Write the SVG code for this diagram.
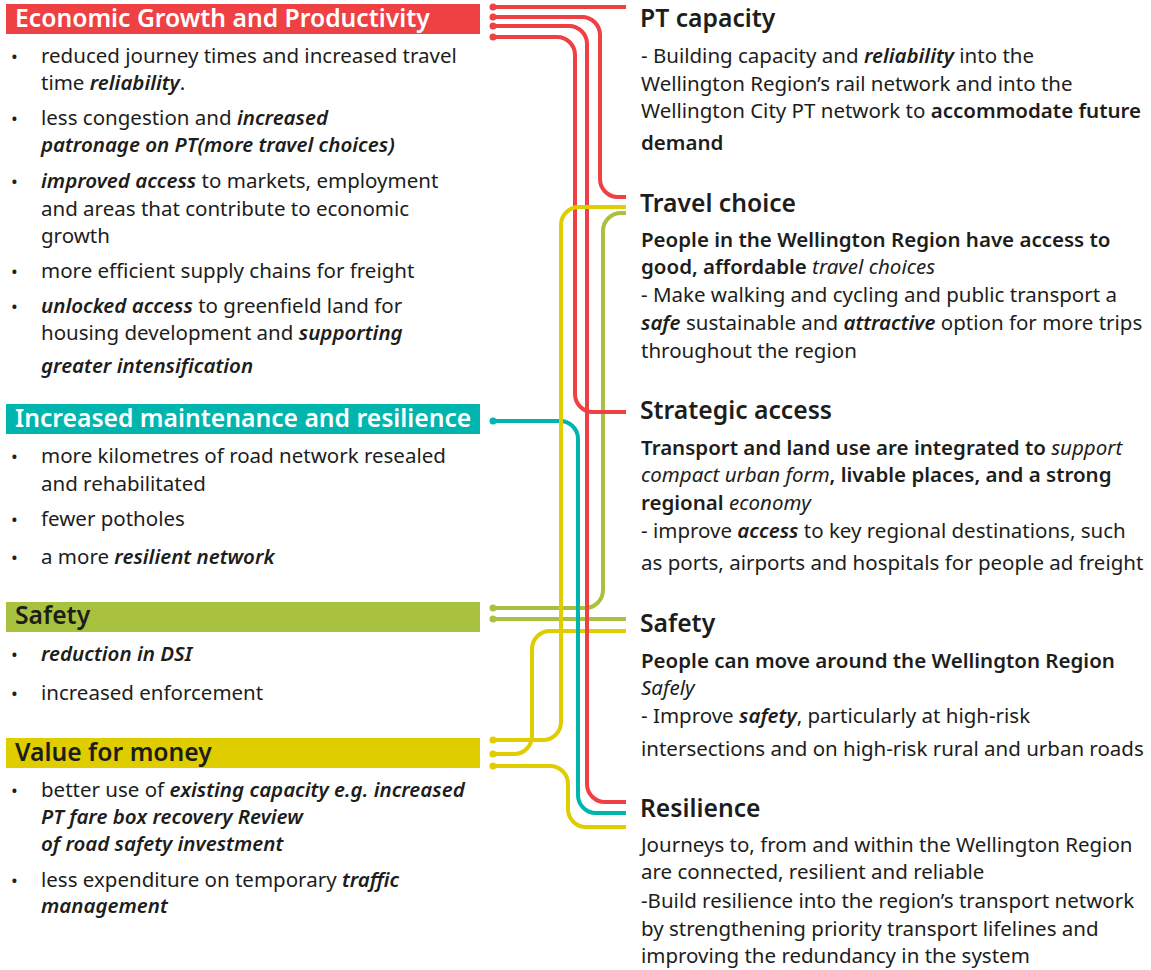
<svg xmlns="http://www.w3.org/2000/svg" width="1151" height="970" viewBox="0 0 1151 970">
  <style>
    .t { font-family: "Noto Sans", "Open Sans", sans-serif; font-size: 20.5px; fill: #1d1d1b; }
    .h { font-family: "Noto Sans", "Open Sans", sans-serif; font-size: 24.7px; font-weight: 600; fill: #1d1d1b; }
    .hw { fill: #ffffff; }
    .bul { font-family: "Noto Sans", sans-serif; font-size: 18px; fill: #1d1d1b; }
    .b { font-weight: 600; }
    .i { font-style: italic; }
    .bi { font-weight: 600; font-style: italic; }
    .ln { fill: none; stroke-width: 4; stroke-linecap: butt; }
    .red { stroke: #ef4044; } .teal { stroke: #00b5ad; } .green { stroke: #a8c23f; } .yel { stroke: #e0cd00; }
    .dred { fill: #ef4044; } .dteal { fill: #00b5ad; } .dgreen { fill: #a8c23f; } .dyel { fill: #e0cd00; }
  </style>

  <rect width="1151" height="970" fill="#ffffff"/>

  <!-- Left column: outcome groups -->
  <g id="economic-growth">
    <rect x="6" y="4" width="474" height="30" fill="#ef4044"/>
    <text class="h hw" x="15" y="27">Economic Growth and Productivity</text>
    <text class="bul" x="11" y="63">•</text>
    <text class="t" x="41" y="63">reduced journey times and increased travel</text>
    <text class="t" x="41" y="90">time <tspan class="bi">reliability</tspan>.</text>
    <text class="bul" x="11" y="125">•</text>
    <text class="t" x="41" y="125">less congestion and <tspan class="bi">increased</tspan></text>
    <text class="t" x="41" y="152"><tspan class="bi">patronage on PT(more travel choices)</tspan></text>
    <text class="bul" x="11" y="188">•</text>
    <text class="t" x="41" y="188"><tspan class="bi">improved access</tspan> to markets, employment</text>
    <text class="t" x="41" y="216">and areas that contribute to economic</text>
    <text class="t" x="41" y="243">growth</text>
    <text class="bul" x="11" y="278">•</text>
    <text class="t" x="41" y="278">more efficient supply chains for freight</text>
    <text class="bul" x="11" y="313">•</text>
    <text class="t" x="41" y="313"><tspan class="bi">unlocked access</tspan> to greenfield land for</text>
    <text class="t" x="41" y="340">housing development and <tspan class="bi">supporting</tspan></text>
    <text class="t" x="41" y="373"><tspan class="bi">greater intensification</tspan></text>
  </g>

  <g id="maintenance-resilience">
    <rect x="6" y="404" width="474" height="30" fill="#00b5ad"/>
    <text class="h hw" x="15" y="427">Increased maintenance and resilience</text>
    <text class="bul" x="11" y="463">•</text>
    <text class="t" x="41" y="463">more kilometres of road network resealed</text>
    <text class="t" x="41" y="491">and rehabilitated</text>
    <text class="bul" x="11" y="526">•</text>
    <text class="t" x="41" y="526">fewer potholes</text>
    <text class="bul" x="11" y="564">•</text>
    <text class="t" x="41" y="564">a more <tspan class="bi">resilient network</tspan></text>
  </g>

  <g id="safety-left">
    <rect x="6" y="602" width="474" height="30" fill="#a8c23f"/>
    <text class="h" x="15" y="624">Safety</text>
    <text class="bul" x="11" y="661">•</text>
    <text class="t" x="41" y="661"><tspan class="bi">reduction in DSI</tspan></text>
    <text class="bul" x="11" y="700">•</text>
    <text class="t" x="41" y="700">increased enforcement</text>
  </g>

  <g id="value-for-money">
    <rect x="6" y="738" width="474" height="30" fill="#e0cd00"/>
    <text class="h" x="15" y="761">Value for money</text>
    <text class="bul" x="11" y="797">•</text>
    <text class="t" x="41" y="797">better use of <tspan class="bi">existing capacity e.g. increased</tspan></text>
    <text class="t" x="41" y="824"><tspan class="bi">PT fare box recovery Review</tspan></text>
    <text class="t" x="41" y="851"><tspan class="bi">of road safety investment</tspan></text>
    <text class="bul" x="11" y="887">•</text>
    <text class="t" x="41" y="887">less expenditure on temporary <tspan class="bi">traffic</tspan></text>
    <text class="t" x="41" y="913"><tspan class="bi">management</tspan></text>
  </g>

  <!-- Right column: objectives -->
  <g id="pt-capacity">
    <text class="h" x="640" y="27">PT capacity</text>
    <text class="t" x="641" y="63">- Building capacity and <tspan class="bi">reliability</tspan> into the</text>
    <text class="t" x="641" y="91">Wellington Region’s rail network and into the</text>
    <text class="t" x="641" y="118">Wellington City PT network to <tspan class="b">accommodate future</tspan></text>
    <text class="t" x="641" y="150"><tspan class="b">demand</tspan></text>
  </g>

  <g id="travel-choice">
    <text class="h" x="640" y="212">Travel choice</text>
    <text class="t" x="641" y="247"><tspan class="b">People in the Wellington Region have access to</tspan></text>
    <text class="t" x="641" y="274"><tspan class="b">good, affordable </tspan><tspan class="i">travel choices</tspan></text>
    <text class="t" x="641" y="302">- Make walking and cycling and public transport a</text>
    <text class="t" x="641" y="330"><tspan class="bi">safe</tspan> sustainable and <tspan class="bi">attractive</tspan> option for more trips</text>
    <text class="t" x="641" y="358">throughout the region</text>
  </g>

  <g id="strategic-access">
    <text class="h" x="640" y="419">Strategic access</text>
    <text class="t" x="641" y="455"><tspan class="b">Transport and land use are integrated to </tspan><tspan class="i">support</tspan></text>
    <text class="t" x="641" y="482"><tspan class="i">compact urban form</tspan><tspan class="b">, livable places, and a strong</tspan></text>
    <text class="t" x="641" y="510"><tspan class="b">regional </tspan><tspan class="i">economy</tspan></text>
    <text class="t" x="641" y="538">- improve <tspan class="bi">access</tspan> to key regional destinations, such</text>
    <text class="t" x="641" y="570">as ports, airports and hospitals for people ad freight</text>
  </g>

  <g id="safety-right">
    <text class="h" x="640" y="632">Safety</text>
    <text class="t" x="641" y="668"><tspan class="b">People can move around the Wellington Region</tspan></text>
    <text class="t" x="641" y="695"><tspan class="i">Safely</tspan></text>
    <text class="t" x="641" y="723">- Improve <tspan class="bi">safety</tspan>, particularly at high-risk</text>
    <text class="t" x="641" y="756">intersections and on high-risk rural and urban roads</text>
  </g>

  <g id="resilience">
    <text class="h" x="640" y="817">Resilience</text>
    <text class="t" x="641" y="852">Journeys to, from and within the Wellington Region</text>
    <text class="t" x="641" y="879">are connected, resilient and reliable</text>
    <text class="t" x="641" y="908">-Build resilience into the region’s transport network</text>
    <text class="t" x="641" y="936">by strengthening priority transport lifelines and</text>
    <text class="t" x="641" y="963">improving the redundancy in the system</text>
  </g>

  <!-- Connectors from outcome groups to objectives -->
  <g id="connectors">
    <path class="ln green" d="M493,608 H585 A18,18 0 0 0 603,590 V231 A18,18 0 0 1 621,213 H626"/>
    <path class="ln green" d="M493,619 H626"/>
    <path class="ln yel" d="M493,754 H514 A18,18 0 0 0 532,736 V649 A18,18 0 0 1 550,631 H626"/>
    <path class="ln yel" d="M493,766 H550 A18,18 0 0 1 568,784 V809 A18,18 0 0 0 586,827 H626"/>
    <path class="ln teal" d="M493,421 H560 A18,18 0 0 1 578,439 V795 A18,18 0 0 0 596,813 H626"/>
    <path class="ln red" d="M493,7 H626"/>
    <path class="ln red" d="M493,17 H582 A18,18 0 0 1 600,35 V179 A18,18 0 0 0 618,197 H626"/>
    <path class="ln red" d="M493,26 H569 A18,18 0 0 1 587,44 V784 A18,18 0 0 0 605,802 H626"/>
    <path class="ln red" d="M493,37 H557 A18,18 0 0 1 575,55 V394 A18,18 0 0 0 593,412 H626"/>
    <path class="ln yel" d="M493,740 H543 A18,18 0 0 0 561,722 V225 A18,18 0 0 1 579,207 H626"/>
    <circle class="dred" cx="493" cy="7" r="3.5"/>
    <circle class="dred" cx="493" cy="17" r="3.5"/>
    <circle class="dred" cx="493" cy="26" r="3.5"/>
    <circle class="dred" cx="493" cy="37" r="3.5"/>
    <circle class="dteal" cx="493" cy="421" r="3.5"/>
    <circle class="dgreen" cx="493" cy="608" r="3.5"/>
    <circle class="dgreen" cx="493" cy="619" r="3.5"/>
    <circle class="dyel" cx="493" cy="740" r="3.5"/>
    <circle class="dyel" cx="493" cy="754" r="3.5"/>
    <circle class="dyel" cx="493" cy="766" r="3.5"/>
  </g>
</svg>
